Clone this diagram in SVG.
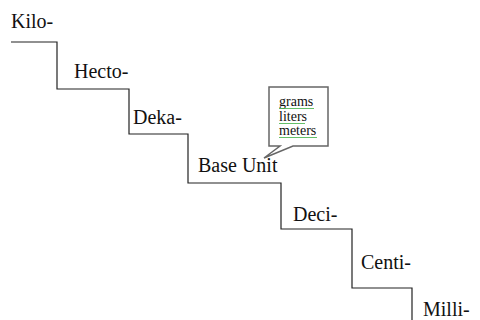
<svg xmlns="http://www.w3.org/2000/svg" width="480" height="320" viewBox="0 0 480 320">
  <style>
    .step { font-family: "Liberation Serif", "Times New Roman", serif; font-size: 20px; fill: #111; }
    .unit { font-family: "Liberation Serif", "Times New Roman", serif; font-size: 14px; fill: #111; }
    .stairs { fill: none; stroke: #222; stroke-width: 1.2; }
    .bubble { fill: #fff; stroke: #666; stroke-width: 1.5; stroke-linejoin: miter; }
    .squiggle { fill: none; stroke: #3cb043; stroke-width: 0.8; }
  </style>
  <rect width="480" height="320" fill="#fff"/>

  <!-- staircase -->
  <g id="connectors">
    <path class="stairs" d="M11,42 H57 V89 H129 V134 H188 V183 H281 V229 H352 V288 H412 V320"/>
  </g>

  <g id="kilo"><text class="step" x="11" y="28">Kilo-</text></g>
  <g id="hecto"><text class="step" x="74" y="78">Hecto-</text></g>
  <g id="deka"><text class="step" x="133" y="124">Deka-</text></g>
  <g id="base-unit"><text class="step" x="198" y="172">Base Unit</text></g>
  <g id="deci"><text class="step" x="293" y="221">Deci-</text></g>
  <g id="centi"><text class="step" x="361" y="269">Centi-</text></g>
  <g id="milli"><text class="step" x="423" y="316">Milli-</text></g>

  <!-- callout listing base units -->
  <g id="callout">
    <path class="bubble" d="M269,87 H328 V146 H293 L264,158 L280,146 H269 Z"/>
    <text class="unit" x="279" y="106">grams</text>
    <text class="unit" x="279" y="121">liters</text>
    <text class="unit" x="279" y="135">meters</text>
    <polyline class="squiggle" points="279,109 280,108 281,109 282,108 283,109 284,108 285,109 286,108 287,109 288,108 289,109 290,108 291,109 292,108 293,109 294,108 295,109 296,108 297,109 298,108 299,109 300,108 301,109 302,108 303,109 304,108 305,109 306,108 307,109 308,108 309,109 310,108 311,109 312,108 313,109 314,108"/>
    <polyline class="squiggle" points="279,124 280,123 281,124 282,123 283,124 284,123 285,124 286,123 287,124 288,123 289,124 290,123 291,124 292,123 293,124 294,123 295,124 296,123 297,124 298,123 299,124 300,123 301,124 302,123 303,124 304,123 305,124"/>
    <polyline class="squiggle" points="279,138 280,137 281,138 282,137 283,138 284,137 285,138 286,137 287,138 288,137 289,138 290,137 291,138 292,137 293,138 294,137 295,138 296,137 297,138 298,137 299,138 300,137 301,138 302,137 303,138 304,137 305,138 306,137 307,138 308,137 309,138 310,137 311,138 312,137 313,138 314,137 315,138 316,137 317,138"/>
  </g>
</svg>
